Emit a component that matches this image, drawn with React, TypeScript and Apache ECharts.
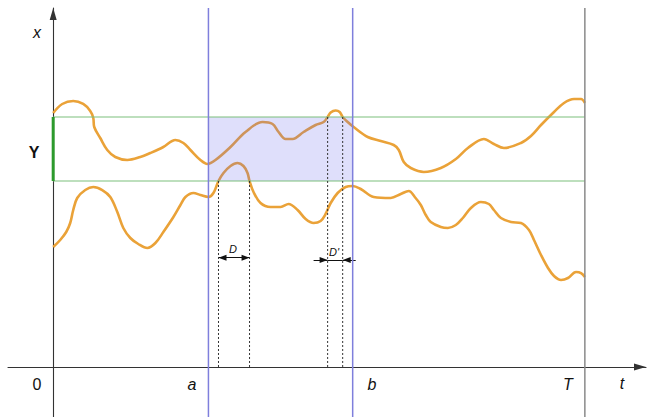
import React, { useEffect, useRef } from "react";
import * as echarts from "echarts";

// Axis extents (t horizontally, x vertically)
const T_RANGE = [-8.5, 111.5];
const X_RANGE = [-13.93, 100];

// Key times
const timeA = 29.2;
const timeB = 56.33;
const timeT = 100;

// Band [lower, upper] on the x axis (the "Y" interval)
const bandLevels = [51.81, 69.64];

// Dashed crossing lines
const dTimes = [31.09, 36.93];
const dPrimeTimes = [51.62, 54.45];
const dArrowLevel = 30.45;
const dPrimeArrowLevel = 29.8;
const dPrimeOuter = [48.98, 56.9];

// Upper trajectory
const upperT = [0, 1.7, 3.77, 5.65, 6.97, 7.54, 7.72, 8.85, 10.17, 11.68, 13.94, 16.39, 18.27, 20.72, 22.98, 24.49, 25.81, 27.69, 29.01, 30.52, 33.35, 36.17, 39.37, 41.26, 42.39, 43.71, 45.03, 47.1, 49.36, 50.87, 51.62, 52.19, 53.13, 53.88, 54.45, 55.39, 56.52, 59.16, 61.61, 64.05, 65.0, 65.94, 67.26, 69.71, 72.91, 75.74, 78.0, 81.01, 82.89, 84.78, 87.98, 89.86, 91.75, 94.2, 96.08, 97.96, 99.28, 100];
const upperX = [70.75, 73.26, 74.09, 73.26, 71.31, 69.36, 66.85, 63.79, 60.45, 58.5, 57.66, 58.5, 59.61, 61.28, 63.23, 62.4, 60.45, 57.66, 56.55, 57.66, 61.28, 65.46, 68.25, 67.69, 65.46, 63.51, 63.51, 65.46, 67.41, 68.25, 69.64, 70.89, 71.45, 71.03, 69.64, 68.25, 66.85, 64.07, 62.95, 61.84, 60.45, 57.1, 55.43, 54.32, 55.43, 57.94, 61.0, 63.51, 62.12, 61.0, 62.4, 64.35, 67.41, 71.03, 73.54, 74.65, 74.65, 73.54];

// Lower trajectory
const lowerT = [0, 1.32, 2.45, 3.2, 3.77, 4.52, 6.03, 7.54, 9.23, 10.74, 12.06, 13.19, 14.51, 16.01, 17.71, 19.22, 20.72, 22.61, 23.93, 24.87, 26.38, 27.69, 29.2, 30.14, 31.09, 32.03, 33.35, 34.66, 35.79, 36.55, 36.93, 37.68, 39.0, 40.88, 42.77, 44.27, 45.97, 47.48, 48.98, 50.3, 51.24, 52.19, 53.5, 55.01, 56.33, 57.84, 60.29, 63.49, 65.37, 66.88, 68.01, 69.14, 70.08, 71.02, 72.91, 74.23, 75.73, 77.05, 78.56, 80.44, 81.95, 82.89, 84.21, 86.1, 87.98, 89.49, 90.43, 91.75, 93.07, 94.2, 95.52, 96.83, 98.34, 99.28, 100];
const lowerX = [33.43, 35.38, 37.6, 40.11, 43.73, 47.08, 49.3, 50.14, 49.3, 47.35, 43.18, 38.72, 35.93, 34.26, 33.15, 34.54, 37.6, 41.78, 45.13, 47.35, 48.47, 47.91, 47.35, 48.47, 51.81, 54.04, 55.99, 56.82, 55.99, 54.04, 51.81, 48.75, 45.68, 44.57, 44.57, 45.4, 43.73, 41.23, 40.11, 40.67, 42.62, 45.68, 48.47, 50.14, 50.42, 49.58, 47.35, 47.08, 48.19, 49.03, 47.35, 45.13, 42.34, 40.39, 39.0, 38.72, 39.55, 41.5, 44.29, 45.96, 45.4, 43.73, 41.5, 40.39, 40.11, 38.16, 35.38, 31.2, 27.58, 25.35, 24.23, 24.79, 26.46, 26.18, 25.07];

const ORANGE = "#eaa238";
const FONT = "'Liberation Sans', Arial, sans-serif";

function zip(a: number[], b: number[]) {
  return a.map((v, i) => [v, b[i]]);
}

function segment(p: number[], q: number[], color: string, width: number, z: number, type: any = "solid") {
  return {
    type: "line",
    data: [p, q],
    showSymbol: false,
    symbol: "none",
    silent: true,
    z,
    lineStyle: { color, width, type },
  };
}

export default function App() {
  const ref = useRef<HTMLDivElement>(null);

  useEffect(() => {
    if (!ref.current) return;
    const chart = echarts.init(ref.current, undefined, { renderer: "svg" });
    const [lo, hi] = bandLevels;

    const curve = (data: number[][]) => ({
      type: "line",
      data,
      smooth: 0.35,
      showSymbol: false,
      symbol: "none",
      silent: true,
      z: 2,
      lineStyle: { color: ORANGE, width: 2.6 },
    });

    const text = (t: string, x: number, y: number, style: any = {}) => ({
      type: "text",
      x,
      y,
      silent: true,
      style: {
        text: t,
        fill: "#111",
        font: `italic 16px ${FONT}`,
        align: "center",
        verticalAlign: "middle",
        ...style,
      },
    });

    const arrowLine = {
      type: "line",
      data: [],
      silent: true,
      z: 7,
      markLine: {
        silent: true,
        animation: false,
        symbolSize: [6, 8],
        lineStyle: { color: "#111", width: 1, type: "solid" },
        label: { show: false },
        data: [
          [
            { coord: [dTimes[0], dArrowLevel], symbol: "triangle", symbolOffset: [0, 4] },
            { coord: [dTimes[1], dArrowLevel], symbol: "triangle", symbolOffset: [0, 4] },
          ],
          [
            { coord: [dPrimeOuter[0], dPrimeArrowLevel], symbol: "none" },
            { coord: [dPrimeTimes[0], dPrimeArrowLevel], symbol: "triangle", symbolOffset: [0, 4] },
          ],
          [
            { coord: [dPrimeOuter[1], dPrimeArrowLevel], symbol: "none" },
            { coord: [dPrimeTimes[1], dPrimeArrowLevel], symbol: "triangle", symbolOffset: [0, 4] },
          ],
          [
            { coord: [dPrimeTimes[0], dPrimeArrowLevel], symbol: "none" },
            { coord: [dPrimeTimes[1], dPrimeArrowLevel], symbol: "none" },
          ],
        ],
      },
    };

    const axisCommon = {
      type: "value",
      axisTick: { show: false },
      axisLabel: { show: false },
      splitLine: { show: false },
    };

    const axisLine = {
      show: true,
      onZero: true,
      symbol: ["none", "triangle"],
      symbolSize: [7, 12],
      symbolOffset: [0, -6],
      lineStyle: { color: "#333", width: 1.1 },
    };

    chart.setOption({
      animation: false,
      grid: { left: 8, right: 1, top: 8, bottom: 0, containLabel: false },
      xAxis: { ...axisCommon, min: T_RANGE[0], max: T_RANGE[1], axisLine },
      yAxis: { ...axisCommon, min: X_RANGE[0], max: X_RANGE[1], axisLine },
      series: [
        curve(zip(upperT, upperX)),
        curve(zip(lowerT, lowerX)),
        {
          type: "custom",
          silent: true,
          z: 3,
          data: [[timeA, lo, timeB, hi]],
          encode: { x: [0, 2], y: [1, 3] },
          renderItem: (params: any, api: any) => {
            const p1 = api.coord([api.value(0), api.value(3)]);
            const p2 = api.coord([api.value(2), api.value(1)]);
            return {
              type: "rect",
              shape: { x: p1[0], y: p1[1], width: p2[0] - p1[0], height: p2[1] - p1[1] },
              style: { fill: "rgba(96,96,236,0.2)" },
            };
          },
        },
        segment([0, hi], [timeT, hi], "#7dbf7d", 1.2, 4),
        segment([0, lo], [timeT, lo], "#7dbf7d", 1.2, 4),
        segment([timeA, X_RANGE[0]], [timeA, X_RANGE[1]], "#7f7fdc", 1.5, 5),
        segment([timeB, X_RANGE[0]], [timeB, X_RANGE[1]], "#7f7fdc", 1.5, 5),
        segment([timeT, X_RANGE[0]], [timeT, X_RANGE[1]], "#8a8a8a", 1.5, 5),
        segment([0, lo], [0, hi], "#2c9a2c", 3, 6),
        segment([dTimes[0], lo], [dTimes[0], 0], "#333", 1, 6, [2, 2]),
        segment([dTimes[1], lo], [dTimes[1], 0], "#333", 1, 6, [2, 2]),
        segment([dPrimeTimes[0], hi], [dPrimeTimes[0], 0], "#333", 1, 6, [2, 2]),
        segment([dPrimeTimes[1], hi], [dPrimeTimes[1], 0], "#333", 1, 6, [2, 2]),
        arrowLine,
      ],
      graphic: [
        text("x", 37, 32),
        text("Y", 34, 152, { font: `bold 16px ${FONT}` }),
        text("0", 37, 384, { font: `16px ${FONT}` }),
        text("a", 192, 384),
        text("b", 372, 384),
        text("T", 568, 384),
        text("t", 622, 383),
        text("D", 233, 249, { font: `italic 11px ${FONT}` }),
        text("D'", 334, 252, { font: `italic 11px ${FONT}` }),
      ],
    });

    return () => chart.dispose();
  }, []);

  return <div ref={ref} style={{ width: 647, height: 417, position: "absolute", left: 0, top: 0 }} />;
}
